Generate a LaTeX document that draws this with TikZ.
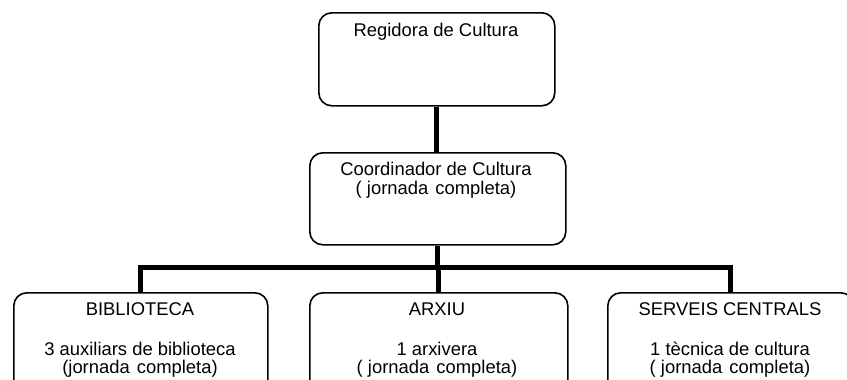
\documentclass[tikz,border=0pt]{standalone}
\usepackage{fontspec}
\setmainfont{Liberation Sans}
\begin{document}
\begin{tikzpicture}[x=1pt,y=-1pt,
  box/.style={draw, line width=1.6pt, rounded corners=13pt, rectangle, inner sep=0pt},
  conn/.style={line width=5pt},
  txt/.style={font=\fontsize{18.4}{20}\selectfont, anchor=base, inner sep=0pt}]
\useasboundingbox (0,0) rectangle (847,380);
\clip (0,0) rectangle (847,380);
% boxes
\node[box, minimum width=236pt, minimum height=93pt, anchor=north west] (reg) at (318,12) {};
\node[box, minimum width=256pt, minimum height=92pt, anchor=north west] (crd) at (309,152) {};
\node[box, minimum width=254pt, minimum height=110pt, anchor=north west] (bib) at (13,292) {};
\node[box, minimum width=258pt, minimum height=110pt, anchor=north west] (arx) at (309,292) {};
\node[box, minimum width=246pt, minimum height=110pt, anchor=north west] (srv) at (607,292) {};
% texts
\node[txt] (regt) at (436,36) {Regidora de Cultura};
\node[txt] (crdt1) at (436,175) {Coordinador de Cultura};
\node[txt] (crdt2) at (436,194) {( jornada\hspace{2pt} completa)};
\node[txt] (bibt1) at (140,315) {BIBLIOTECA};
\node[txt] (bibt2) at (140,355) {3 auxiliars de biblioteca};
\node[txt] (bibt3) at (140,373) {(jornada\hspace{2pt} completa)};
\node[txt] (arxt1) at (437,315) {ARXIU};
\node[txt] (arxt2) at (437,355) {1 arxivera};
\node[txt] (arxt3) at (437,373) {( jornada\hspace{2pt} completa)};
\node[txt] (srvt1) at (730,315) {SERVEIS CENTRALS};
\node[txt] (srvt2) at (730,355) {1 tècnica de cultura};
\node[txt] (srvt3) at (730,373) {( jornada\hspace{2pt} completa)};
% connectors
\coordinate (bus) at (437,267);
\draw[conn] (reg.south) -- (reg.south |- crd.north);
\draw[conn] (crd.south) -- (crd.south |- bus);
\draw[conn, line join=miter] (bib.north) -- (bib.north |- bus) -- (srv.north |- bus) -- (srv.north);
\draw[conn] (arx.north |- bus) -- (arx.north);
\end{tikzpicture}
\end{document}
